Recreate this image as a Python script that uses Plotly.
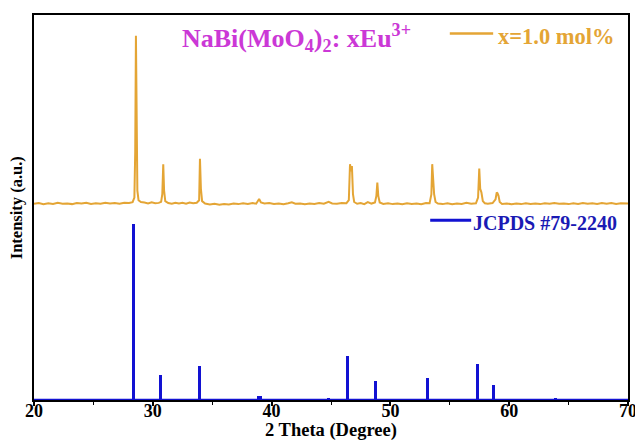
import plotly.graph_objects as go

# ---------------- data ----------------
# measured pattern (x = 1.0 mol% Eu3+), 2theta in degrees, intensity relative to its own baseline
gold_2theta = [
    20.0, 20.4, 20.8, 21.2, 21.6, 22.0, 22.4, 22.8, 23.2, 23.6, 24.0, 24.4, 24.8, 25.2, 25.6,
    26.0, 26.4, 26.8, 27.2, 27.6, 28.0, 28.3, 28.45, 28.52, 28.58, 28.64, 28.7, 28.8, 29.0,
    29.3, 29.6, 29.9, 30.2, 30.5, 30.7, 30.8, 30.88, 30.95, 31.05, 31.3, 31.6, 31.9, 32.2,
    32.5, 32.8, 33.1, 33.4, 33.7, 33.9, 33.97, 34.05, 34.15, 34.4, 34.8, 35.2, 35.6, 36.0,
    36.4, 36.8, 37.2, 37.6, 38.0, 38.4, 38.7, 38.95, 39.1, 39.4, 39.8, 40.2, 40.6, 41.0,
    41.4, 41.7, 42.0, 42.4, 42.8, 43.2, 43.6, 44.0, 44.4, 44.8, 45.1, 45.5, 45.9, 46.3,
    46.5, 46.6, 46.68, 46.76, 46.85, 46.95, 47.2, 47.5, 47.8, 48.1, 48.4, 48.7, 48.82, 48.9,
    48.98, 49.1, 49.4, 49.8, 50.2, 50.6, 51.0, 51.4, 51.8, 52.2, 52.6, 53.0, 53.3, 53.45,
    53.52, 53.6, 53.68, 53.8, 54.0, 54.4, 54.8, 55.2, 55.6, 56.0, 56.4, 56.8, 57.2, 57.38,
    57.48, 57.56, 57.66, 57.78, 57.95, 58.2, 58.6, 58.85, 58.95, 59.02, 59.1, 59.2, 59.4,
    59.8, 60.2, 60.6, 61.0, 61.4, 61.8, 62.2, 62.6, 63.0, 63.4, 63.8, 64.2, 64.6, 65.0,
    65.4, 65.8, 66.2, 66.6, 67.0, 67.4, 67.8, 68.2, 68.6, 69.0, 69.4, 69.8, 70.0,
]
gold_intensity = [
    0.5, 0.9, 0.3, 0.8, 0.4, 1.0, 0.5, 0.7, 0.3, 0.9, 0.6, 1.1, 0.4, 0.8, 0.5,
    1.0, 0.6, 0.9, 0.5, 1.1, 0.9, 1.4, 4.0, 30.0, 96.0, 40.0, 8.0, 2.5, 1.5,
    1.2, 0.7, 1.3, 0.8, 1.0, 1.6, 6.0, 23.0, 8.0, 2.0, 0.9, 0.5, 1.1, 0.6,
    1.0, 0.5, 1.2, 0.8, 1.1, 2.5, 26.0, 9.0, 2.0, 0.6, 0.1, 0.5, 0.0, 0.4,
    0.1, 0.6, 0.3, 0.8, 0.4, 0.9, 0.5, 3.2, 1.2, 0.6, 0.9, 0.4, 0.7, 0.2,
    0.8, 1.3, 0.5, 0.7, 0.2, 0.6, 0.4, 0.9, 0.5, 1.6, 0.7, 0.5, 0.9, 0.8,
    2.5, 23.0, 19.0, 22.0, 6.0, 1.5, 0.5, 0.9, 0.3, 1.4, 0.6, 1.2, 5.0, 12.5,
    5.0, 1.2, 0.4, 0.8, 0.3, 0.7, 0.2, 0.8, 0.4, 0.6, 0.2, 0.9, 0.8, 6.0,
    23.0, 9.0, 6.0, 1.5, 0.6, 0.3, 0.8, 0.2, 0.7, 0.4, 1.0, 0.5, 0.8, 4.0,
    20.5, 9.0, 7.0, 2.0, 0.8, 0.5, 0.9, 3.0, 7.0, 6.5, 5.0, 1.5, 0.4,
    0.7, 0.2, 0.6, 0.3, 0.8, 0.4, 0.7, 0.3, 0.8, 0.5, 0.9, 0.5, 0.7, 0.3,
    0.8, 0.4, 0.9, 0.5, 0.8, 0.4, 0.9, 0.5, 0.9, 0.4, 0.8, 0.5, 0.7,
]
gold_offset = 111.0   # vertical stacking offset of the measured pattern

# standard card JCPDS #79-2240 (stick pattern)
card_2theta = [28.35, 30.65, 33.9, 38.85, 39.1, 44.8, 46.4, 48.75, 53.1, 57.35, 58.7, 63.9]
card_intensity = [100.0, 14.3, 19.6, 2.3, 2.3, 1.3, 24.9, 10.6, 12.5, 20.3, 8.7, 1.1]
card_baseline = 0.0

x_range = [20, 70]
y_range = [0, 218.75]
x_ticks = [20, 30, 40, 50, 60, 70]

title_text = "NaBi(MoO<sub>4</sub>)<sub>2</sub>: xEu<sup>3+</sup>"
gold_label = "x=1.0 mol%"
card_label = "JCPDS #79-2240"
x_title = "2 Theta (Degree)"
y_title = "Intensity (a.u.)"

# ---------------- style ----------------
FONT = "Liberation Serif, Times New Roman, serif"
GOLD = "#E4A535"
BLUE = "#1212D2"
MAGENTA = "#CB38D6"

fig = go.Figure()

fig.add_trace(go.Bar(
    x=card_2theta, y=card_intensity, base=card_baseline, width=0.24,
    marker=dict(color=BLUE, line=dict(width=0)), showlegend=False,
))
fig.add_trace(go.Scatter(
    x=x_range, y=[card_baseline, card_baseline], mode="lines",
    line=dict(color=BLUE, width=2.5), showlegend=False,
))
fig.add_trace(go.Scatter(
    x=gold_2theta, y=[v + gold_offset for v in gold_intensity], mode="lines",
    line=dict(color=GOLD, width=2), showlegend=False,
))

# title and legend-like labels
fig.add_annotation(text=title_text, x=0.245, y=0.94, xref="paper", yref="paper",
                   xanchor="left", yanchor="middle", showarrow=False,
                   font=dict(family=FONT, size=26, color=MAGENTA, weight="bold"))
fig.add_shape(type="line", xref="paper", yref="paper", x0=0.700, x1=0.773, y0=0.952, y1=0.952,
              line=dict(color=GOLD, width=2.5))
fig.add_annotation(text=gold_label, x=0.777, y=0.944, xref="paper", yref="paper",
                   xanchor="left", yanchor="middle", showarrow=False,
                   font=dict(family=FONT, size=22.5, color=GOLD, weight="bold"))
fig.add_shape(type="line", xref="paper", yref="paper", x0=0.667, x1=0.736, y0=0.467, y1=0.467,
              line=dict(color=BLUE, width=3))
fig.add_annotation(text=card_label, x=0.736, y=0.46, xref="paper", yref="paper",
                   xanchor="left", yanchor="middle", showarrow=False,
                   font=dict(family=FONT, size=20, color="#1A1AB4", weight="bold"))

# axis titles
fig.add_annotation(text=x_title, x=0.5, y=-0.079, xref="paper", yref="paper",
                   xanchor="center", yanchor="middle", showarrow=False,
                   font=dict(family=FONT, size=18.5, color="black", weight="bold"))
fig.add_annotation(text=y_title, x=-0.029, y=0.5, xref="paper", yref="paper",
                   xanchor="center", yanchor="middle", showarrow=False, textangle=-90,
                   font=dict(family=FONT, size=16.5, color="black", weight="bold"))

fig.update_layout(
    width=635, height=441,
    margin=dict(l=34, r=7, t=15, b=41, autoexpand=False),
    paper_bgcolor="white", plot_bgcolor="white",
    bargap=0,
    xaxis=dict(
        range=x_range, tickvals=x_ticks, ticks="outside", ticklen=4, tickwidth=1.5,
        tickcolor="black", showline=True, linecolor="black", linewidth=1.5, mirror=True,
        showgrid=False, zeroline=False, automargin=False, ticklabelstandoff=-10,
        ticklabeloverflow="allow",
        minor=dict(dtick=5, ticks="outside", ticklen=3, tickwidth=1.2, tickcolor="black"),
        tickfont=dict(family=FONT, size=18, color="black", weight="bold"),
    ),
    yaxis=dict(
        range=y_range, showticklabels=False, ticks="", showline=True, linecolor="black",
        linewidth=1.5, mirror=True, showgrid=False, zeroline=False, automargin=False,
    ),
)

fig.write_html("out.html", config={"displayModeBar": False},
               post_script="document.body.style.margin='0';")
